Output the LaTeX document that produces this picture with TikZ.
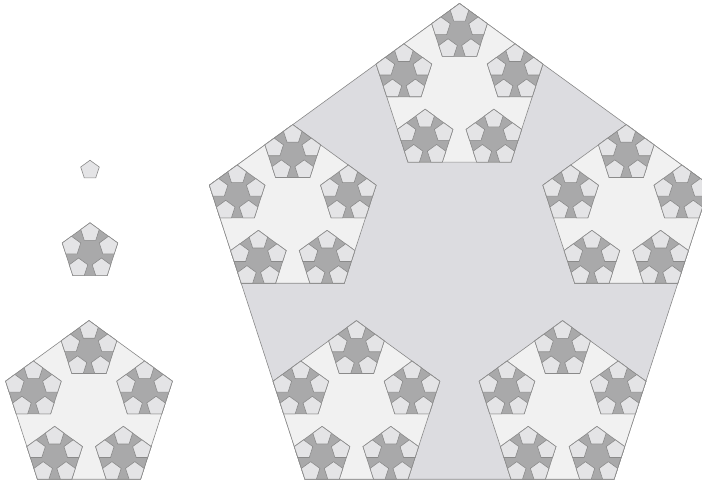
\documentclass[tikz,border=0pt]{standalone}
\definecolor{pfc0}{HTML}{E4E4E6}
\definecolor{pfc1}{HTML}{A9A9AA}
\definecolor{pfc2}{HTML}{F1F1F1}
\definecolor{pfc3}{HTML}{DCDCE0}
\definecolor{pfline}{HTML}{8A8A8A}
\tikzset{pentline/.style={draw=pfline, line width=0.6pt, line join=miter}}
\newcommand\pflake[4]{%
  \begin{scope}[shift={(#2,#3)}]
    \filldraw[pentline, fill=pfc#1] (90:#4) -- (162:#4) -- (234:#4) -- (306:#4) -- (18:#4) -- cycle;
  \end{scope}
  \ifnum#1>0
    \pgfmathtruncatemacro\pfnext{#1-1}%
    \foreach \a in {90,162,234,306,18}{%
      \pgfmathsetmacro\pfx{#2+2*#4/3*cos(\a)}%
      \pgfmathsetmacro\pfy{#3+2*#4/3*sin(\a)}%
      \pgfmathsetmacro\pfr{#4/3}%
      \edef\pfcall{\noexpand\pflake{\pfnext}{\pfx}{\pfy}{\pfr}}\pfcall}%
  \fi}
\begin{document}
\begin{tikzpicture}[x=1pt,y=1pt]
\useasboundingbox (0,0) rectangle (702,485);
\pflake{0}{90}{315}{9.75}
\pflake{1}{90}{233}{29.2}
\pflake{2}{89}{76.7}{87.7}
\pflake{3}{459.5}{218.5}{263}
\end{tikzpicture}
\end{document}
